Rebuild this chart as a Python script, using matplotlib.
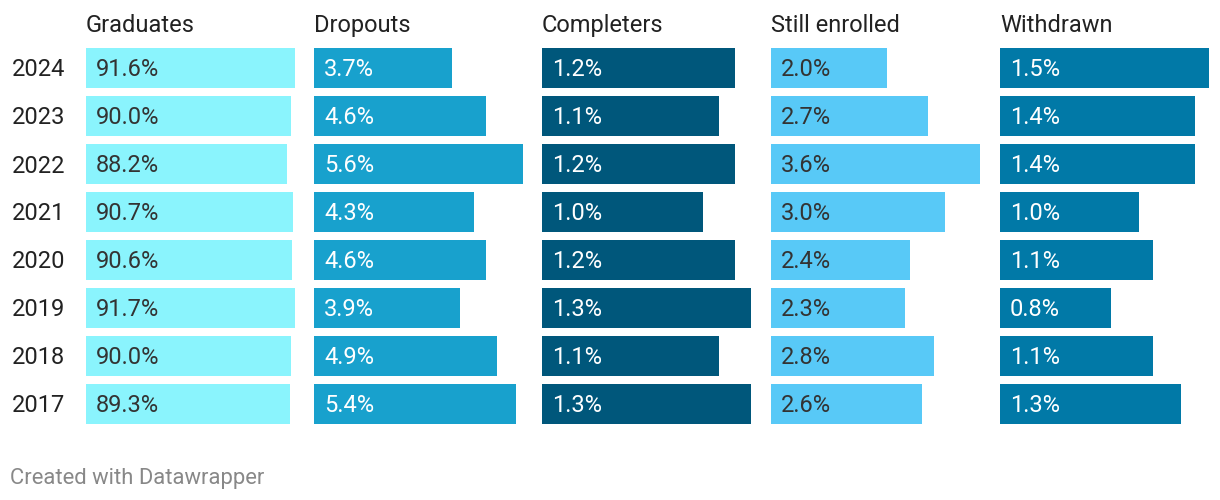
import matplotlib.pyplot as plt

plt.rcParams['font.family'] = ['Roboto', 'DejaVu Sans']

years = ['2024', '2023', '2022', '2021', '2020', '2019', '2018', '2017']
columns = ['Graduates', 'Dropouts', 'Completers', 'Still enrolled', 'Withdrawn']
graduates = [91.6, 90.0, 88.2, 90.7, 90.6, 91.7, 90.0, 89.3]
dropouts = [3.7, 4.6, 5.6, 4.3, 4.6, 3.9, 4.9, 5.4]
completers = [1.2, 1.1, 1.2, 1.0, 1.2, 1.3, 1.1, 1.3]
still_enrolled = [2.0, 2.7, 3.6, 3.0, 2.4, 2.3, 2.8, 2.6]
withdrawn = [1.5, 1.4, 1.4, 1.0, 1.1, 0.8, 1.1, 1.3]

series = [graduates, dropouts, completers, still_enrolled, withdrawn]
colors = ['#8af4fd', '#18a1cd', '#00577b', '#58c9f7', '#0179a7']
text_colors = ['#333333', '#ffffff', '#ffffff', '#333333', '#ffffff']

W, H = 1220, 500
fig = plt.figure(figsize=(W / 100, H / 100), dpi=100)

col_left = [86, 314, 542, 771, 1000]
col_width = 209
top_px, row_h = 44, 48
n = len(years)

for i, (name, vals) in enumerate(zip(columns, series)):
    ax = fig.add_axes([col_left[i] / W, 1 - (top_px + row_h * n) / H,
                       col_width / W, row_h * n / H])
    ypos = list(range(n))
    ax.barh(ypos, vals, height=40 / 48, color=colors[i])
    ax.set_xlim(0, max(vals))
    ax.set_ylim(n - 0.5, -0.5)
    ax.axis('off')
    for y, v in zip(ypos, vals):
        ax.annotate(f'{v:.1f}%', (0, y), xytext=(10, -2), textcoords='offset pixels',
                    ha='left', va='center', fontsize=17, color=text_colors[i])
    fig.text(col_left[i] / W, 1 - 25.5 / H, name, ha='left', va='center',
             fontsize=17, color='#222222')

for j, yr in enumerate(years):
    fig.text(12 / W, 1 - (70 + row_h * j) / H, yr, ha='left', va='center',
             fontsize=17, color='#222222')

fig.text(10 / W, 1 - 478.5 / H, 'Created with Datawrapper', ha='left', va='center',
         fontsize=15.8, color='#888888')

fig.savefig('out.png', dpi=100)
